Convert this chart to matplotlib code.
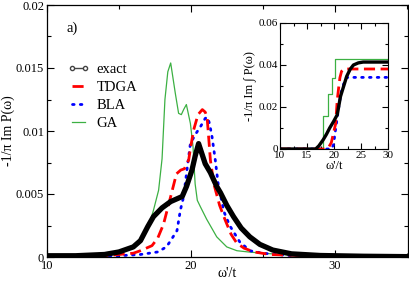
import matplotlib
matplotlib.use("Agg")
import matplotlib.pyplot as plt
from matplotlib.lines import Line2D
from matplotlib.ticker import MultipleLocator

plt.rcParams['font.family'] = ['Liberation Serif', 'DejaVu Serif']

# ---- main panel data ----
exact_x = [10, 12, 14, 15, 16, 16.5, 17.0, 17.4, 18.0, 18.6, 19.0, 19.4, 19.7, 20.08, 20.3, 20.54,
           21.0, 21.36, 21.8, 22.06, 22.5, 22.97, 23.5, 24.1, 24.8, 25.7, 27, 29, 32, 35]
exact_y = [0.0001, 0.0001, 0.0002, 0.0004, 0.0008, 0.0013, 0.0024, 0.0032, 0.0039, 0.0044, 0.0046, 0.0048,
           0.0056, 0.0069, 0.0080, 0.0090, 0.0074, 0.0067, 0.0056, 0.0051, 0.0041, 0.0032, 0.0023,
           0.0016, 0.0010, 0.00055, 0.00025, 0.00012, 0.00006, 0.00003]

tdga_x = [10, 14, 16, 16.5, 17.3, 17.7, 18.1, 18.6, 19.0, 19.3, 19.55, 19.85, 20.0, 20.2, 20.5, 20.8,
          21.0, 21.13, 21.24, 21.36, 21.6, 22.0, 22.4, 22.8, 23.2, 23.7, 24.4, 25.5, 28, 35]
tdga_y = [0.00005, 0.0001, 0.0003, 0.0005, 0.0009, 0.0015, 0.0026, 0.0048, 0.0066, 0.0069, 0.0070,
          0.0077, 0.0088, 0.0101, 0.0113, 0.0117, 0.0115, 0.0111, 0.0095, 0.0077, 0.0058, 0.0041,
          0.0029, 0.0018, 0.0011, 0.0007, 0.0004, 0.0002, 0.0001, 0.00005]

bla_x = [10, 15, 16.5, 17.7, 18.3, 18.6, 19.04, 19.27, 19.5, 19.73, 19.97, 20.3, 20.7, 21.0, 21.15,
         21.3, 21.48, 21.7, 21.9, 22.3, 22.7, 23.4, 24.1, 25.0, 27, 35]
bla_y = [0.00003, 0.0001, 0.0002, 0.0004, 0.0008, 0.0013, 0.0021, 0.0037, 0.0048, 0.0069, 0.0090,
         0.0097, 0.0104, 0.0110, 0.0111, 0.0106, 0.0095, 0.0077, 0.0058, 0.0036, 0.0025, 0.0012,
         0.0005, 0.0003, 0.0001, 0.00003]

ga_x = [10, 13, 15.3, 16.3, 17.0, 17.4, 17.76, 18.0, 18.2, 18.4, 18.6, 18.92, 19.15, 19.34, 19.5,
        19.69, 19.97, 20.15, 20.3, 20.45, 20.66, 21.1, 21.8, 22.5, 23.2, 24.0, 25, 27, 30, 35]
ga_y = [0.0001, 0.0002, 0.0005, 0.0011, 0.0022, 0.0037, 0.0053, 0.0078, 0.0125, 0.0147, 0.0154,
        0.0130, 0.0114, 0.0113, 0.0117, 0.0121, 0.0106, 0.0088, 0.0058, 0.0045, 0.0040, 0.0030,
        0.0016, 0.0008, 0.0005, 0.0004, 0.0003, 0.00015, 0.0001, 0.00005]

# ---- inset data (integrated weight) ----
iexact_x = [10, 16.6, 17.2, 18.0, 18.6, 19.2, 19.9, 20.6, 21.2, 21.8, 22.35, 23.0, 23.6, 24.5, 25.4, 30]
iexact_y = [0, 0, 0.0015, 0.0044, 0.0070, 0.0100, 0.0130, 0.0163, 0.0250, 0.0300, 0.0346, 0.0380,
            0.0400, 0.0410, 0.0414, 0.0414]
itdga_x = [10, 18.3, 19.0, 19.5, 19.9, 20.3, 20.6, 20.9, 21.1, 21.4, 21.8, 30]
itdga_y = [0, 0, 0.0008, 0.0030, 0.0076, 0.0120, 0.0233, 0.0300, 0.0340, 0.0370, 0.0381, 0.0381]
ibla_x = [10, 19.5, 19.9, 20.2, 20.5, 20.8, 21.3, 21.8, 22.2, 22.6, 30]
ibla_y = [0, 0, 0.0020, 0.0076, 0.0130, 0.0187, 0.0267, 0.0310, 0.0338, 0.0341, 0.0341]
iga_x = [10, 18.0, 18.8, 19.6, 20.1, 30]
iga_y = [0, 0.0157, 0.0260, 0.0340, 0.0429, 0.0429]

labels = ["exact", "TDGA", "BLA", "GA"]
main_xticks = [10, 20, 30]
main_yticks = [0, 0.005, 0.01, 0.015, 0.02]
main_yticklabels = ['0', '0.005', '0.01', '0.015', '0.02']
inset_xticks = [10, 15, 20, 25, 30]
inset_yticks = [0, 0.02, 0.04, 0.06]
inset_yticklabels = ['0', '0.02', '0.04', '0.06']

GREEN = '#3cb043'
DASH = (0, (4, 2))
DOT = (0, (0.6, 2.2))

fig = plt.figure(figsize=(4.09, 2.83), dpi=100)
W, H = 409, 283
ax = fig.add_axes([47 / W, 1 - 257 / H, (408 - 47) / W, (257 - 5) / H])

ax.plot(ga_x, ga_y, color=GREEN, lw=0.9)
ax.plot(bla_x, bla_y, color='#0000ff', lw=2.0, linestyle=DOT, dash_capstyle='round')
ax.plot(tdga_x, tdga_y, color='#ff0000', lw=2.0, linestyle=DASH)
ax.plot(exact_x, exact_y, color='black', lw=3.8, solid_joinstyle='round')

ax.set_xlim(10, 35.1)
ax.set_ylim(0, 0.02)
ax.set_xticks(main_xticks)
ax.set_xticklabels([str(v) for v in main_xticks])
ax.xaxis.set_minor_locator(MultipleLocator(5))
ax.set_yticks(main_yticks)
ax.set_yticklabels(main_yticklabels)
ax.yaxis.set_minor_locator(MultipleLocator(0.0025))
ax.tick_params(which='both', direction='in', top=True, right=True, labelsize=9, pad=2)
ax.tick_params(which='major', length=5, width=0.8)
ax.tick_params(which='minor', length=3, width=0.8)
for s in ax.spines.values():
    s.set_linewidth(0.9)
ax.set_xlabel("ω'/t", fontsize=10)
ax.xaxis.set_label_coords(0.5, -0.038)
ax.set_ylabel("-1/π Im P(ω)", fontsize=10, labelpad=1)
ax.text(0.055, 0.895, "a)", transform=ax.transAxes, fontsize=10.5)

handles = [
    Line2D([], [], color='#444444', lw=1.0, marker='o', markersize=3, mfc='white', mec='#444444'),
    Line2D([], [], color='#ff0000', lw=2.0, linestyle=DASH),
    Line2D([], [], color='#0000ff', lw=2.0, linestyle=DOT, dash_capstyle='round'),
    Line2D([], [], color=GREEN, lw=0.9),
]
ax.legend(handles, labels, loc='upper left', bbox_to_anchor=(0.058, 0.77), frameon=False,
          fontsize=10.5, numpoints=2, handlelength=1.5, handletextpad=0.45, labelspacing=0.33,
          borderpad=0, borderaxespad=0)

# ---- inset ----
axi = fig.add_axes([280 / W, 1 - 149 / H, (388 - 280) / W, (149 - 23) / H])
axi.plot(iga_x, iga_y, color=GREEN, lw=0.9, drawstyle='steps-post')
axi.plot(ibla_x, ibla_y, color='#0000ff', lw=2.0, linestyle=DOT, dash_capstyle='round')
axi.plot(itdga_x, itdga_y, color='#ff0000', lw=2.0, linestyle=DASH)
axi.plot(iexact_x, iexact_y, color='black', lw=2.4)
axi.set_xlim(10, 30)
axi.set_ylim(0, 0.06)
axi.set_xticks(inset_xticks)
axi.set_xticklabels([str(v) for v in inset_xticks])
axi.xaxis.set_minor_locator(MultipleLocator(2.5))
axi.set_yticks(inset_yticks)
axi.set_yticklabels(inset_yticklabels)
axi.yaxis.set_minor_locator(MultipleLocator(0.01))
axi.tick_params(which='both', direction='in', top=True, right=True, labelsize=8, pad=1.5)
axi.tick_params(which='major', length=4, width=0.8)
axi.tick_params(which='minor', length=2, width=0.8)
axi.set_xlabel("ω'/t", fontsize=9, labelpad=0)
axi.set_ylabel("-1/π Im ∫ P(ω)", fontsize=9, labelpad=2)

fig.savefig("out.png", dpi=100)
